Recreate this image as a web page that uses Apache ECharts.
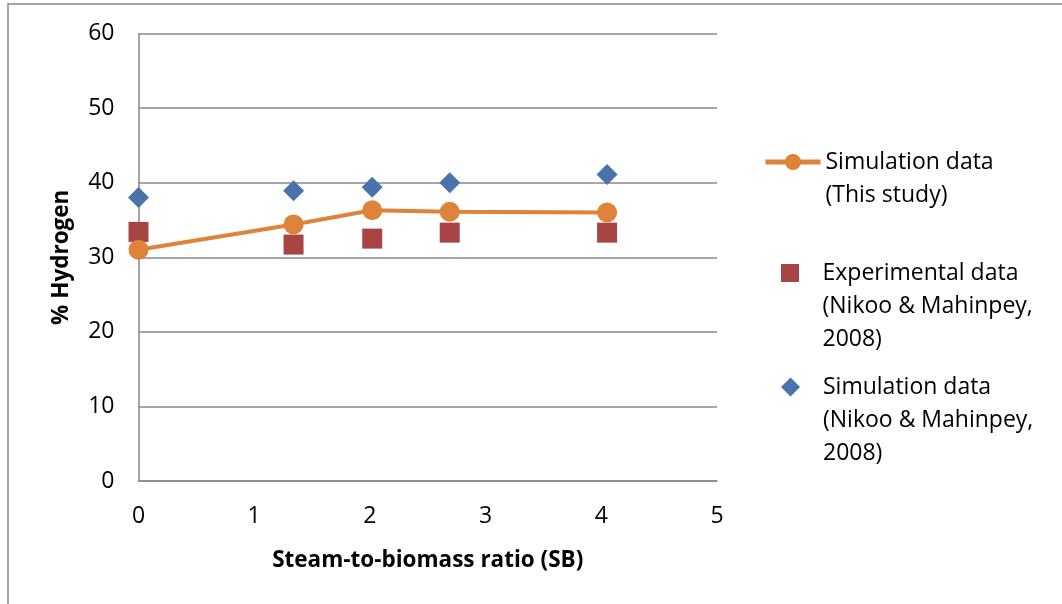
<!DOCTYPE html>
<html>
<head>
<meta charset="utf-8">
<script src="https://cdn.jsdelivr.net/npm/echarts@6/dist/echarts.min.js"></script>
<style>html,body{margin:0;padding:0;background:#fff;}#c{width:1062px;height:604px;}</style>
</head>
<body>
<div id="c"></div>
<script>
const sbRatio = [0, 1.34, 2.02, 2.69, 4.05];
const simThisStudy = [31.0, 34.4, 36.3, 36.1, 36.0];
const expNikoo = [33.4, 31.7, 32.5, 33.3, 33.3];
const simNikoo = [38.0, 38.9, 39.4, 40.0, 41.1];
const xTicks = [0, 1, 2, 3, 4, 5];
const yTicks = [0, 10, 20, 30, 40, 50, 60];

const nameA = 'Simulation data\n(This study)';
const nameB = 'Experimental data\n(Nikoo & Mahinpey,\n2008)';
const nameC = 'Simulation data\n(Nikoo & Mahinpey,\n2008)';
const FONT = 'Open Sans';
const pairs = (xs, ys) => xs.map((x, i) => [x, ys[i]]);
// prepend blank lines so the first line of the label sits level with the icon
const alignFirst = (name) => '\n'.repeat(name.split('\n').length - 1) + name;
const SQUARE_ICON = 'path://M0,0L10,0L10,10L0,10Z';
const DIAMOND_ICON = 'path://M5,0L10,5L5,10L0,5Z';

const chart = echarts.init(document.getElementById('c'));
const legText = { fontFamily: FONT, fontSize: 23, color: '#000', lineHeight: 33 };
const legBase = { padding: 0, itemWidth: 55, symbolKeepAspect: true, formatter: alignFirst, textStyle: legText };
chart.setOption({
  animation: false,
  backgroundColor: '#fff',
  graphic: [{ type: 'rect', shape: { x: 8, y: 4, width: 1200, height: 800 }, style: { fill: 'none', stroke: '#888', lineWidth: 1.5 }, silent: true }],
  grid: { left: 138.5, right: 345, top: 33.5, bottom: 123, outerBoundsMode: 'none' },
  xAxis: {
    type: 'value', min: xTicks[0], max: xTicks[xTicks.length - 1], interval: 1,
    name: 'Steam-to-biomass ratio (SB)', nameLocation: 'middle', nameGap: 68,
    nameTextStyle: { fontFamily: FONT, fontSize: 22.5, fontWeight: 'bold', color: '#000' },
    axisLine: { show: true, lineStyle: { color: '#898989', width: 1.5 } },
    axisTick: { show: false },
    axisLabel: { fontFamily: FONT, fontSize: 23, color: '#000', margin: 24 },
    splitLine: { show: false }
  },
  yAxis: {
    type: 'value', min: yTicks[0], max: yTicks[yTicks.length - 1], interval: 10,
    name: '% Hydrogen', nameLocation: 'middle', nameGap: 65,
    nameTextStyle: { fontFamily: FONT, fontSize: 22.5, fontWeight: 'bold', color: '#000' },
    axisLine: { show: true, lineStyle: { color: '#898989', width: 1.5 } },
    axisTick: { show: false },
    axisLabel: { fontFamily: FONT, fontSize: 23, color: '#000', margin: 24 },
    splitLine: { show: true, lineStyle: { color: '#898989', width: 1.5 } }
  },
  legend: [
    Object.assign({}, legBase, { left: 763, top: 112.5, itemHeight: 20, lineStyle: { width: 5 }, data: [nameA] }),
    Object.assign({}, legBase, { left: 781, top: 190.5, itemHeight: 18, data: [{ name: nameB, icon: SQUARE_ICON }] }),
    Object.assign({}, legBase, { left: 781, top: 304.5, itemHeight: 19, data: [{ name: nameC, icon: DIAMOND_ICON }] })
  ],
  series: [
    { name: nameC, type: 'scatter', symbol: 'diamond', symbolSize: 21, data: pairs(sbRatio, simNikoo), itemStyle: { color: '#4A73AB', opacity: 1 } },
    { name: nameB, type: 'scatter', symbol: 'rect', symbolSize: 20, data: pairs(sbRatio, expNikoo), itemStyle: { color: '#A84444', opacity: 1 } },
    { name: nameA, type: 'line', symbol: 'circle', symbolSize: 20, data: pairs(sbRatio, simThisStudy), itemStyle: { color: '#DE8339', opacity: 1 }, lineStyle: { color: '#DE8339', width: 4 } }
  ]
});
</script>
</body>
</html>
